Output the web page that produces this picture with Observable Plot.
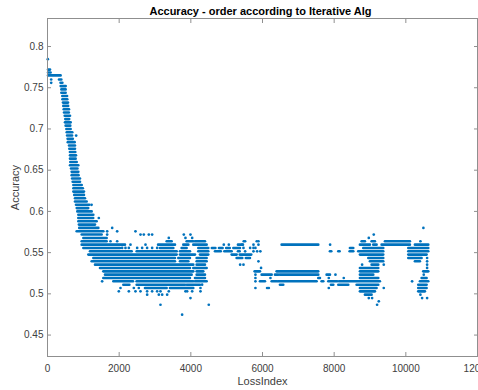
<!DOCTYPE html>
<html><head><meta charset="utf-8">
<script src="https://cdn.jsdelivr.net/npm/d3@7"></script>
<script src="https://cdn.jsdelivr.net/npm/@observablehq/plot@0.6"></script>
<style>
html,body{margin:0;padding:0;background:#fff;}
#chart svg{display:block;}
</style></head><body><div id="chart"></div>
<script>
const titleText = "Accuracy - order according to Iterative Alg";
const xLabel = "LossIndex";
const yLabel = "Accuracy";
const xTicks = [0, 2000, 4000, 6000, 8000, 10000, 12000];
const yTicks = [0.45, 0.5, 0.55, 0.6, 0.65, 0.7, 0.75, 0.8];

// Accuracy levels (rows of the scatter)
const rowLevels = [
  0.7846, 0.772, 0.7685, 0.765, 0.760, 0.756, 0.752, 0.748, 0.744, 0.740,
  0.736, 0.732, 0.728, 0.724, 0.720, 0.716, 0.712, 0.708, 0.704, 0.700,
  0.696, 0.692, 0.688, 0.684, 0.680, 0.676, 0.672, 0.668, 0.664, 0.660,
  0.656, 0.652, 0.648, 0.644, 0.640, 0.636, 0.632, 0.628, 0.624, 0.620,
  0.616, 0.612, 0.608, 0.604, 0.600, 0.596, 0.592, 0.588, 0.5840, 0.5800,
  0.5759, 0.5719, 0.5678, 0.5638, 0.5597, 0.5557, 0.5516, 0.5476, 0.5435, 0.5395,
  0.5354, 0.5314, 0.5273, 0.5233, 0.5192, 0.5152, 0.5111, 0.5071, 0.5030, 0.4990,
  0.4949, 0.4909, 0.4868, 0.4747
];

// Runs of consecutive LossIndex values at each level: [start, end, start, end, ...]
const rowSpans = [
  [], [28,84], [28,100], [28,380], [335,400], [377,430], [382,522], [400,520], [400,520], [427,560],
  [430,566], [446,586], [455,590], [466,614], [475,610], [494,642], [510,620], [502,661], [520,650], [540,660],
  [550,706], [560,700], [575,720], [580,772], [614,781], [622,781], [640,790], [642,809], [642,800], [650,830],
  [642,874], [670,850], [688,874], [688,880], [700,920], [716,921], [735,968], [735,1000], [735,1032], [760,1032],
  [781,1060], [781,1107], [809,1181], [830,1150], [846,1247], [874,1293], [874,1290], [874,1386], [890,1340], [900,1433],
  [828,1572], [968,1526], [1014,1665],
  [968,1665, 3339,3479, 3897,4083, 4130,4408, 8780,8873, 9059,9152, 9431,10128],
  [968,2176, 3100,3571, 3804,3944, 4083,4455, 5329,5469, 6548,7570, 8733,9012, 9105,9198, 9338,10128, 10267,10640],
  [1014,2037, 3153,3525, 3757,3897, 4222,4500, 4600,4700, 4800,4900, 5000,5100, 5200,5385, 8454,8547, 8826,9384, 10082,10640],
  [1200,2363, 2502,3618, 3711,3990, 4222,4501, 4688,4850, 4950,5153, 5329,5376, 7896,7933, 8129,8166, 8445,8547, 8686,9384, 10082,10640],
  [1154,3618, 3711,4130, 4269,4501, 5153,5292, 5380,5700, 8733,9384, 10082,10594],
  [1293,3571, 3664,3990, 4176,4455, 5292,5450, 5550,5664, 8966,9384, 10082,10454],
  [1247,3571, 3711,3944, 4176,4455, 9012,9384, 10267,10407],
  [1340,4083, 4176,4408, 9059,9245],
  [1479,3990, 4083,4455, 8733,9245],
  [1572,4083, 4176,4362, 5794,5943, 6408,7570, 8733,9245, 10500,10640],
  [1619,4037, 4176,4408, 5990,6269, 6362,6455, 6501,7570, 7803,7896, 8733,9105],
  [1572,3990, 4130,4408, 7570,7617, 8733,9245, 10454,10594],
  [1851,2400, 2500,4083, 4130,4455, 5943,6083, 6269,6408, 6445,7524, 7664,7710, 7850,8100, 8150,9291, 10407,10640],
  [2130,2300, 2502,3850, 3897,4269, 6501,6594, 7924,7990, 8129,8408, 8640,9245, 10360,10594],
  [2735,3339, 3432,4083, 8733,9198, 10360,10594],
  [8733,9152, 10360,10547],
  [8873,9059],
  [], [], [], []
];

// Isolated LossIndex values at each level
const rowSingles = [
  [9], [], [], [], [103], [103], [], [], [], [],
  [], [], [], [], [], [], [], [], [], [],
  [], [800], [], [], [], [], [], [], [], [],
  [], [], [], [], [], [], [], [], [], [],
  [], [], [1230], [], [], [], [1432], [], [], [1805, 10490],
  [1665, 1944, 2455],
  [1665, 2595, 2688, 2827, 2920, 3804, 3990, 9105],
  [3385, 3850, 4037, 8966],
  [1758, 1944, 5478, 5515, 5840, 5887, 10407],
  [2316, 2735, 4920, 5060, 5432, 5748, 5887, 7887],
  [2083, 2176, 2270, 2502, 2641, 2780, 2920, 3060, 5469, 5655, 5748, 5803],
  [5515, 5748, 5850, 5940],
  [],
  [10594],
  [5887, 10594],
  [5376, 5469, 8780, 9384, 10594],
  [5960, 10594],
  [],
  [5803, 8036, 10500],
  [5803, 6222, 7850, 8268],
  [1525, 5803, 10175],
  [4315],
  [2037, 2409, 2548, 4269, 5803, 6129, 6176, 7850, 9384],
  [1990, 2270, 2455, 2595, 2780, 2920, 3060, 3153, 3385, 3850, 3897, 4037, 4269],
  [2781, 3107, 3200, 3339, 10407],
  [3990, 8966, 9059, 10454, 10594],
  [9245],
  [3153, 4501, 9198],
  [3757]
];

const runs = [];
const dots = [];
rowLevels.forEach((y, i) => {
  const s = rowSpans[i] || [];
  for (let j = 0; j + 1 < s.length; j += 2) runs.push({x1: s[j], x2: s[j + 1], y});
  (rowSingles[i] || []).forEach(x => dots.push({x, y}));
});

const blue = "#0072BD";
const axisGray = "#8f8f8f";
const textGray = "#404040";

const svg = Plot.plot({
  width: 478,
  height: 390,
  marginLeft: 47,
  marginRight: 1,
  marginTop: 18,
  marginBottom: 34,
  style: {fontFamily: '"Liberation Sans", Arial, Helvetica, sans-serif', fontSize: "10px", background: "#fff"},
  x: {domain: [0, 12000]},
  y: {domain: [0.424, 0.834]},
  marks: [
    Plot.ruleY(runs, {y: "y", x1: "x1", x2: "x2", stroke: blue, strokeWidth: 2.6, strokeLinecap: "round"}),
    Plot.dot(dots, {x: "x", y: "y", r: 1.35, fill: blue, stroke: null}),
    Plot.frame({stroke: axisGray}),
    Plot.axisX(xTicks, {anchor: "bottom", tickSize: 0, tickPadding: 8, tickFormat: d => String(d), label: null, fill: textGray}),
    Plot.axisX(xTicks, {anchor: "bottom", tickSize: -4, tickFormat: () => "", label: null, stroke: axisGray}),
    Plot.axisX(xTicks, {anchor: "top", tickSize: -4, tickFormat: () => "", label: null, stroke: axisGray}),
    Plot.axisY(yTicks, {anchor: "left", tickSize: 0, tickPadding: 4, tickFormat: d => String(d), label: null, fill: textGray}),
    Plot.axisY(yTicks, {anchor: "left", tickSize: -4, tickFormat: () => "", label: null, stroke: axisGray}),
    Plot.axisY(yTicks, {anchor: "right", tickSize: -4, tickFormat: () => "", label: null, stroke: axisGray}),
    Plot.text([titleText], {frameAnchor: "top", text: d => d, textAnchor: "middle", lineAnchor: "middle", dy: -7.5, dx: -2, fontWeight: "bold", fontSize: 11, fill: "#000"}),
    Plot.text([xLabel], {frameAnchor: "bottom", text: d => d, textAnchor: "middle", lineAnchor: "middle", dy: 25, fontSize: 11, fill: textGray}),
    Plot.text([yLabel], {frameAnchor: "left", text: d => d, textAnchor: "middle", lineAnchor: "middle", dx: -32, rotate: -90, fontSize: 11, fill: textGray})
  ]
});
document.getElementById("chart").appendChild(svg);
</script>
</body></html>
